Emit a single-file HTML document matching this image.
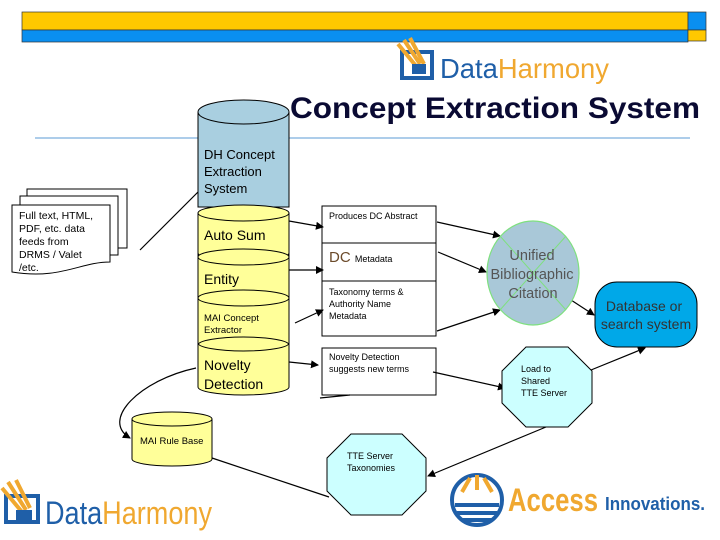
<!DOCTYPE html>
<html><head><meta charset="utf-8"><style>
html,body{margin:0;padding:0;background:#fff}
svg{display:block}
text{font-family:"Liberation Sans",sans-serif}
</style></head><body>
<svg width="720" height="540" viewBox="0 0 720 540" xmlns="http://www.w3.org/2000/svg">
<defs>
<marker id="a" markerWidth="8" markerHeight="8" refX="7" refY="4" orient="auto" markerUnits="userSpaceOnUse"><path d="M0,0 L8,4 L0,8 z" fill="#000"/></marker>
</defs>
<rect x="22" y="12" width="666" height="18" fill="#ffc800" stroke="#333" stroke-width="0.7"/>
<rect x="22" y="30" width="666" height="12" fill="#0a8ff0" stroke="#333" stroke-width="0.7"/>
<rect x="688" y="12" width="18" height="18" fill="#0a8ff0" stroke="#333" stroke-width="0.7"/>
<rect x="688" y="30" width="18" height="11" fill="#ffc800" stroke="#333" stroke-width="0.7"/>
<!-- top logo -->
<rect x="402" y="52" width="30" height="26" fill="#fff" stroke="#1f5fa8" stroke-width="4"/>
<path d="M398,44 L416,66 M404,40 L420,64 M410,38 L424,64" stroke="#f0a830" stroke-width="4"/>
<rect x="412" y="64" width="14" height="10" fill="#1f5fa8"/>
<text x="440" y="78" font-size="28" fill="#1f5fa8" textLength="169" lengthAdjust="spacingAndGlyphs">Data<tspan fill="#f0a830">Harmony</tspan></text>
<text x="290" y="118" font-size="30" font-weight="bold" fill="#0a0a33" textLength="410" lengthAdjust="spacingAndGlyphs">Concept Extraction System</text>
<line x1="35" y1="138" x2="690" y2="138" stroke="#5b9bd5" stroke-width="1"/>
<!-- docs -->
<rect x="27" y="189" width="100" height="59" fill="#fff" stroke="#000"/>
<rect x="20" y="196" width="98" height="59" fill="#fff" stroke="#000"/>
<path d="M12,205 H110 V262 C80,262 60,280 12,272 Z" fill="#fff" stroke="#000"/>
<g font-size="10.5" fill="#000"><text x="19" y="219">Full text, HTML,</text><text x="19" y="232">PDF, etc.  data</text><text x="19" y="245">feeds from</text><text x="19" y="258">DRMS / Valet</text><text x="19" y="271">/etc.</text></g>
<line x1="140" y1="250" x2="198" y2="192" stroke="#000" stroke-width="1.2"/>
<!-- main cylinder -->
<path d="M198,112 V207 H289 V112" fill="#a9cfe0" stroke="#000"/>
<ellipse cx="243.5" cy="112" rx="45.5" ry="12" fill="#a9cfe0" stroke="#000"/>
<g font-size="13"><text x="204" y="159">DH Concept</text><text x="204" y="176">Extraction</text><text x="204" y="193">System</text></g>
<path d="M198,213 V387 A45.5,8 0 0 0 289,387 V213" fill="#ffff99" stroke="#000"/>
<ellipse cx="243.5" cy="213" rx="45.5" ry="8" fill="#ffff99" stroke="#000"/>
<path d="M198,253 A45.5,8 0 0 0 289,253" fill="none" stroke="#000"/>
<ellipse cx="243.5" cy="257" rx="45.5" ry="8" fill="#ffff99" stroke="#000"/>
<path d="M198,297 A45.5,8 0 0 0 289,297" fill="none" stroke="#000"/>
<ellipse cx="243.5" cy="298" rx="45.5" ry="8" fill="#ffff99" stroke="#000"/>
<path d="M198,343 A45.5,8 0 0 0 289,343" fill="none" stroke="#000"/>
<path d="M198,345 A45.5,8 0 0 1 289,345" fill="none" stroke="#000"/>
<g font-size="14"><text x="204" y="240">Auto Sum</text><text x="204" y="284">Entity</text></g>
<g font-size="9.5"><text x="204" y="321">MAI Concept</text><text x="204" y="333">Extractor</text></g>
<g font-size="14"><text x="204" y="370">Novelty</text><text x="204" y="389">Detection</text></g>
<!-- boxes -->
<rect x="322" y="206" width="114" height="130" fill="#fff" stroke="#000"/>
<line x1="322" y1="243" x2="436" y2="243" stroke="#000"/>
<line x1="322" y1="281" x2="436" y2="281" stroke="#000"/>
<rect x="322" y="348" width="114" height="47" fill="#fff" stroke="#000"/>
<text x="329" y="219" font-size="9">Produces DC Abstract</text>
<text x="329" y="262" font-size="15" fill="#6b4a2a">DC <tspan font-size="9" fill="#000">Metadata</tspan></text>
<g font-size="9"><text x="329" y="295">Taxonomy terms  &amp;</text><text x="329" y="307">Authority Name</text><text x="329" y="319">Metadata</text>
<text x="329" y="360">Novelty Detection</text><text x="329" y="372">suggests new terms</text></g>
<g stroke="#000" stroke-width="1.2" fill="none">
<line x1="289" y1="221" x2="323" y2="227" marker-end="url(#a)"/>
<line x1="289" y1="270" x2="323" y2="270" marker-end="url(#a)"/>
<line x1="295" y1="323" x2="323" y2="310" marker-end="url(#a)"/>
<line x1="289" y1="362" x2="318" y2="365" marker-end="url(#a)"/>
<line x1="320" y1="398" x2="350" y2="395"/>
<path d="M196,368 C140,380 100,420 130,438" marker-end="url(#a)"/>
<line x1="212" y1="458" x2="329" y2="497"/>
<line x1="437" y1="222" x2="500" y2="236" marker-end="url(#a)"/>
<line x1="438" y1="252" x2="486" y2="272" marker-end="url(#a)"/>
<line x1="437" y1="331" x2="500" y2="310" marker-end="url(#a)"/>
<line x1="571" y1="300" x2="594" y2="315" marker-end="url(#a)"/>
<line x1="433" y1="372" x2="505" y2="388" marker-end="url(#a)"/>
<line x1="591" y1="370" x2="645" y2="348" marker-end="url(#a)"/>
<line x1="546" y1="427" x2="428" y2="476" marker-end="url(#a)"/>
</g>
<ellipse cx="533" cy="273" rx="46" ry="52" fill="#a9c8d8" stroke="#7fe07f" stroke-width="1.2"/>
<line x1="500" y1="236" x2="566" y2="310" stroke="#7fe07f"/>
<line x1="566" y1="236" x2="500" y2="310" stroke="#7fe07f"/>
<g font-size="14.5" fill="#555" text-anchor="middle"><text x="532" y="260">Unified</text><text x="532" y="279">Bibliographic</text><text x="533" y="298">Citation</text></g>
<rect x="595" y="282" width="102" height="65" rx="22" fill="#00a8e8" stroke="#000"/>
<g font-size="14" fill="#333" text-anchor="middle"><text x="644" y="311">Database or</text><text x="646" y="329">search system</text></g>
<polygon points="526,347 568,347 592,371 592,403 568,427 526,427 502,403 502,371" fill="#ccffff" stroke="#000"/>
<g font-size="9"><text x="521" y="372">Load to</text><text x="521" y="384">Shared</text><text x="521" y="396">TTE Server</text></g>
<polygon points="351,434 402,434 426,458 426,491 402,515 351,515 327,491 327,458" fill="#ccffff" stroke="#000"/>
<g font-size="9"><text x="347" y="459">TTE Server</text><text x="347" y="471">Taxonomies</text></g>
<path d="M132,419 V459 A40,7 0 0 0 212,459 V419" fill="#ffff99" stroke="#000"/>
<ellipse cx="172" cy="419" rx="40" ry="7" fill="#ffff99" stroke="#000"/>
<text x="140" y="444" font-size="9.5">MAI Rule Base</text>
<!-- bottom logo -->
<rect x="6" y="496" width="32" height="26" fill="#fff" stroke="#1f5fa8" stroke-width="4"/>
<path d="M2,488 L22,512 M8,482 L26,510 M16,480 L30,508" stroke="#f0a830" stroke-width="4"/>
<rect x="16" y="510" width="16" height="10" fill="#1f5fa8"/>
<text x="45" y="524" font-size="32" fill="#1f5fa8" textLength="167" lengthAdjust="spacingAndGlyphs">Data<tspan fill="#f0a830">Harmony</tspan></text>
<!-- access innovations -->
<circle cx="477" cy="500" r="25" fill="#fff" stroke="#1f5fa8" stroke-width="4"/>
<path d="M455,505 H499 M457,513 H497 M462,520 H492" stroke="#1f5fa8" stroke-width="4"/>
<path d="M462,492 L470,478 M477,490 V475 M492,492 L484,478" stroke="#f0a830" stroke-width="4"/>
<text x="508" y="511" font-size="32" font-weight="bold" fill="#f0a830" textLength="90" lengthAdjust="spacingAndGlyphs">Access</text>
<text x="605" y="510" font-size="18" font-weight="bold" fill="#1f5fa8" textLength="100" lengthAdjust="spacingAndGlyphs">Innovations.</text>
</svg>
</body></html>
